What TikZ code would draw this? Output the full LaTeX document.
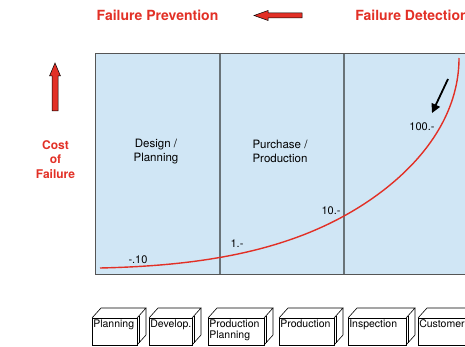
\documentclass[tikz,border=0pt]{standalone}
\usepackage{fontspec}
\setmainfont{TeX Gyre Heros}
\usepackage{tikz}
\usetikzlibrary{arrows.meta}
\definecolor{failred}{RGB}{226,48,38}
\definecolor{chartblue}{RGB}{208,230,245}
\definecolor{framegray}{RGB}{85,85,85}
\definecolor{divgray}{RGB}{105,115,120}

\begin{document}
\begin{tikzpicture}[x=1pt, y=-1pt, line width=0.6pt,
    heading/.style={text=failred, font=\bfseries\fontsize{14}{16}\selectfont, inner sep=0pt},
    axislabel/.style={text=failred, font=\bfseries\fontsize{12}{14.5}\selectfont, align=center, inner sep=0pt},
    phase/.style={font=\fontsize{11.5}{13.5}\selectfont, align=center, inner sep=0pt},
    costval/.style={font=\fontsize{11}{13}\selectfont, inner sep=0pt},
    cubetext/.style={font=\fontsize{10.5}{11.5}\selectfont, align=left, anchor=north west, inner sep=1pt},
    blockarrow/.style={fill=failred, draw=black, line width=0.5pt}]
    \clip (0, 0) rectangle (465, 347);

    % draw headings
    \node[heading] (prevention) at (157.5, 15.5) {Failure Prevention};
    \node[heading, anchor=west] (detection) at (355, 15.5) {Failure Detection};

    % draw red block arrows
    \filldraw[blockarrow] (254, 15.5) -- (268, 10.5) -- (268, 13) -- (302, 13)
      -- (302, 18) -- (268, 18) -- (268, 20.5) -- cycle;
    \filldraw[blockarrow] (55, 63) -- (60.5, 76) -- (58, 76) -- (58, 111)
      -- (52, 111) -- (52, 76) -- (49.5, 76) -- cycle;

    % draw axis label
    \node[axislabel] (costlabel) at (55.5, 159.5) {Cost\\of\\Failure};

    % draw phase areas
    \filldraw[fill=chartblue, draw=framegray, line width=1pt] (95, 54) rectangle (480, 274);
    \draw[divgray, line width=1.2pt] (220, 54) -- (220, 274);
    \draw[divgray, line width=1.2pt] (344, 54) -- (344, 274);

    \node[phase] (design) at (156, 151.5) {Design /\\Planning};
    \node[phase] (purchase) at (280, 151.5) {Purchase /\\Production};

    % draw cost curve
    \draw[failred, line width=1.4pt] (100, 268) .. controls (190, 266) and (274, 254.5) .. (344, 216)
      .. controls (404, 183) and (459, 128) .. (459, 58);

    % draw cost values
    \node[costval] (val010) at (138, 260) {-.10};
    \node[costval] (val1) at (237, 244) {1.-};
    \node[costval] (val10) at (331, 211) {10.-};
    \node[costval] (val100) at (422, 127) {100.-};

    % draw pointer
    \coordinate (pointertail) at (448, 79);
    \coordinate (pointertip) at (432, 113);
    \draw[line width=1.8pt, -{Triangle[length=9pt, width=9pt]}] (pointertail) -- (pointertip);

    % draw process cubes
    \foreach \name/\xa/\xb/\txt in {plan/92/137/Planning, dev/149/192/Develop.,
        pplan/208/264/{Production\\Planning}, prod/279/334/Production,
        insp/348/406/Inspection, cust/418/476/Customer} {
      \filldraw[fill=white] (\xa, 318) rectangle (\xb, 345);
      \draw (\xa, 318) -- ++(9, -10) -- (\xb + 9, 308) -- (\xb, 318);
      \draw (\xb + 9, 308) -- (\xb + 9, 335) -- (\xb, 345);
      \draw[line width=0.4pt] (\xb + 2, 315.8) -- (\xb + 2, 342.8);
      \node[cubetext] (\name) at (\xa, 318.5) {\txt};
    }
\end{tikzpicture}
\end{document}
